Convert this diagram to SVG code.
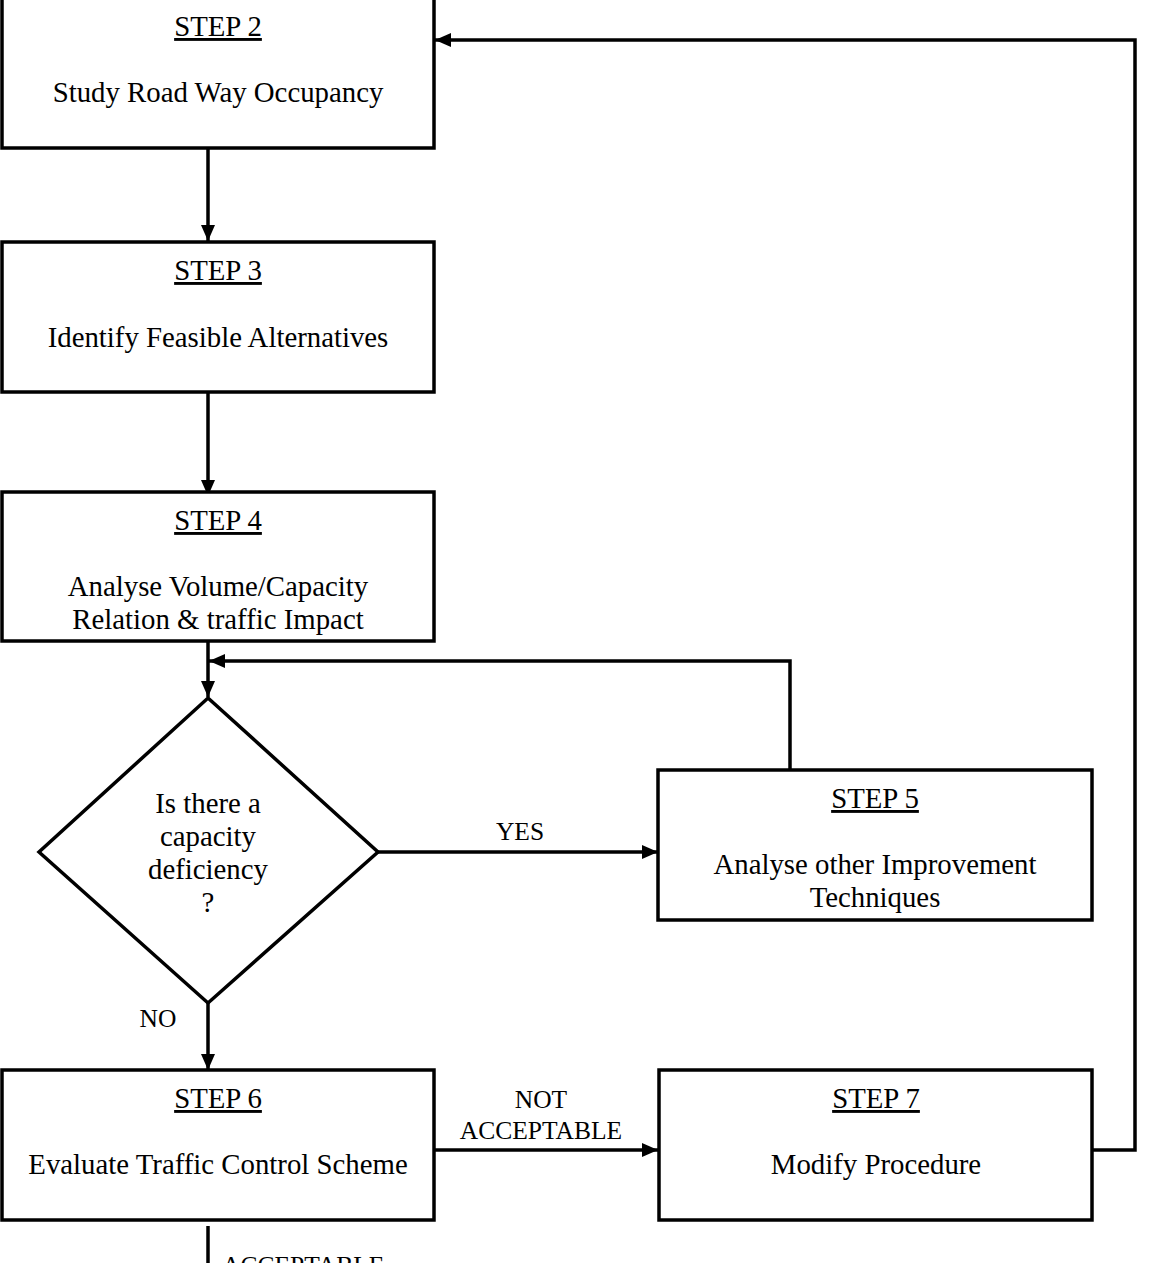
<svg xmlns="http://www.w3.org/2000/svg" width="1150" height="1263" viewBox="0 0 1150 1263">
<style>
.box{fill:#fff;stroke:#000;stroke-width:3.5}
.t{font-family:"Liberation Serif","Times New Roman",serif;font-size:28.8px;text-anchor:middle;fill:#000}
.u{text-decoration:underline}
.lbl{font-family:"Liberation Serif","Times New Roman",serif;font-size:25.5px;text-anchor:middle;fill:#000}
.c{fill:none;stroke:#000;stroke-width:3.5}
</style>
<defs>
<marker id="ah" viewBox="0 0 16 14" refX="16" refY="7" markerWidth="16" markerHeight="14" markerUnits="userSpaceOnUse" orient="auto">
<path d="M0,0 L16,7 L0,14 Z" fill="#000"/>
</marker>
</defs>
<rect width="1150" height="1263" fill="#fff"/>
<g id="connectors">
<path class="c" d="M208,148 V241" marker-end="url(#ah)"/>
<path class="c" d="M208,392 V496" marker-end="url(#ah)"/>
<path class="c" d="M208,641 V697" marker-end="url(#ah)"/>
<path class="c" d="M790,770 V661 H209" marker-end="url(#ah)"/>
<path class="c" d="M378,852 H658" marker-end="url(#ah)"/>
<path class="c" d="M208,1003 V1070" marker-end="url(#ah)"/>
<path class="c" d="M434,1150 H658" marker-end="url(#ah)"/>
<path class="c" d="M1092,1150 H1135 V40 H435" marker-end="url(#ah)"/>
<path class="c" d="M208,1226 V1263"/>
<text class="lbl" x="520" y="840">YES</text>
<text class="lbl" x="158" y="1027">NO</text>
<text class="lbl" x="541" y="1108">NOT</text>
<text class="lbl" x="541" y="1139">ACCEPTABLE</text>
<text class="lbl" x="222" y="1274" style="text-anchor:start">ACCEPTABLE</text>
</g>
<g id="step2">
<rect class="box" x="2" y="-3" width="432" height="151"/>
<text class="t u" x="218" y="36">STEP 2</text>
<text class="t" x="218" y="102">Study Road Way Occupancy</text>
</g>
<g id="step3">
<rect class="box" x="2" y="242" width="432" height="150"/>
<text class="t u" x="218" y="280">STEP 3</text>
<text class="t" x="218" y="347">Identify Feasible Alternatives</text>
</g>
<g id="step4">
<rect class="box" x="2" y="492" width="432" height="149"/>
<text class="t u" x="218" y="530">STEP 4</text>
<text class="t" x="218" y="596">Analyse Volume/Capacity</text>
<text class="t" x="218" y="629">Relation &amp; traffic Impact</text>
</g>
<g id="decision">
<polygon class="box" points="208,698 378,852 208,1003 39,852"/>
<text class="t" x="208" y="813">Is there a</text>
<text class="t" x="208" y="846">capacity</text>
<text class="t" x="208" y="879">deficiency</text>
<text class="t" x="208" y="912">?</text>
</g>
<g id="step5">
<rect class="box" x="658" y="770" width="434" height="150"/>
<text class="t u" x="875" y="808">STEP 5</text>
<text class="t" x="875" y="874">Analyse other Improvement</text>
<text class="t" x="875" y="907">Techniques</text>
</g>
<g id="step6">
<rect class="box" x="2" y="1070" width="432" height="150"/>
<text class="t u" x="218" y="1108">STEP 6</text>
<text class="t" x="218" y="1174">Evaluate Traffic Control Scheme</text>
</g>
<g id="step7">
<rect class="box" x="659" y="1070" width="433" height="150"/>
<text class="t u" x="876" y="1108">STEP 7</text>
<text class="t" x="876" y="1174">Modify Procedure</text>
</g>
</svg>
